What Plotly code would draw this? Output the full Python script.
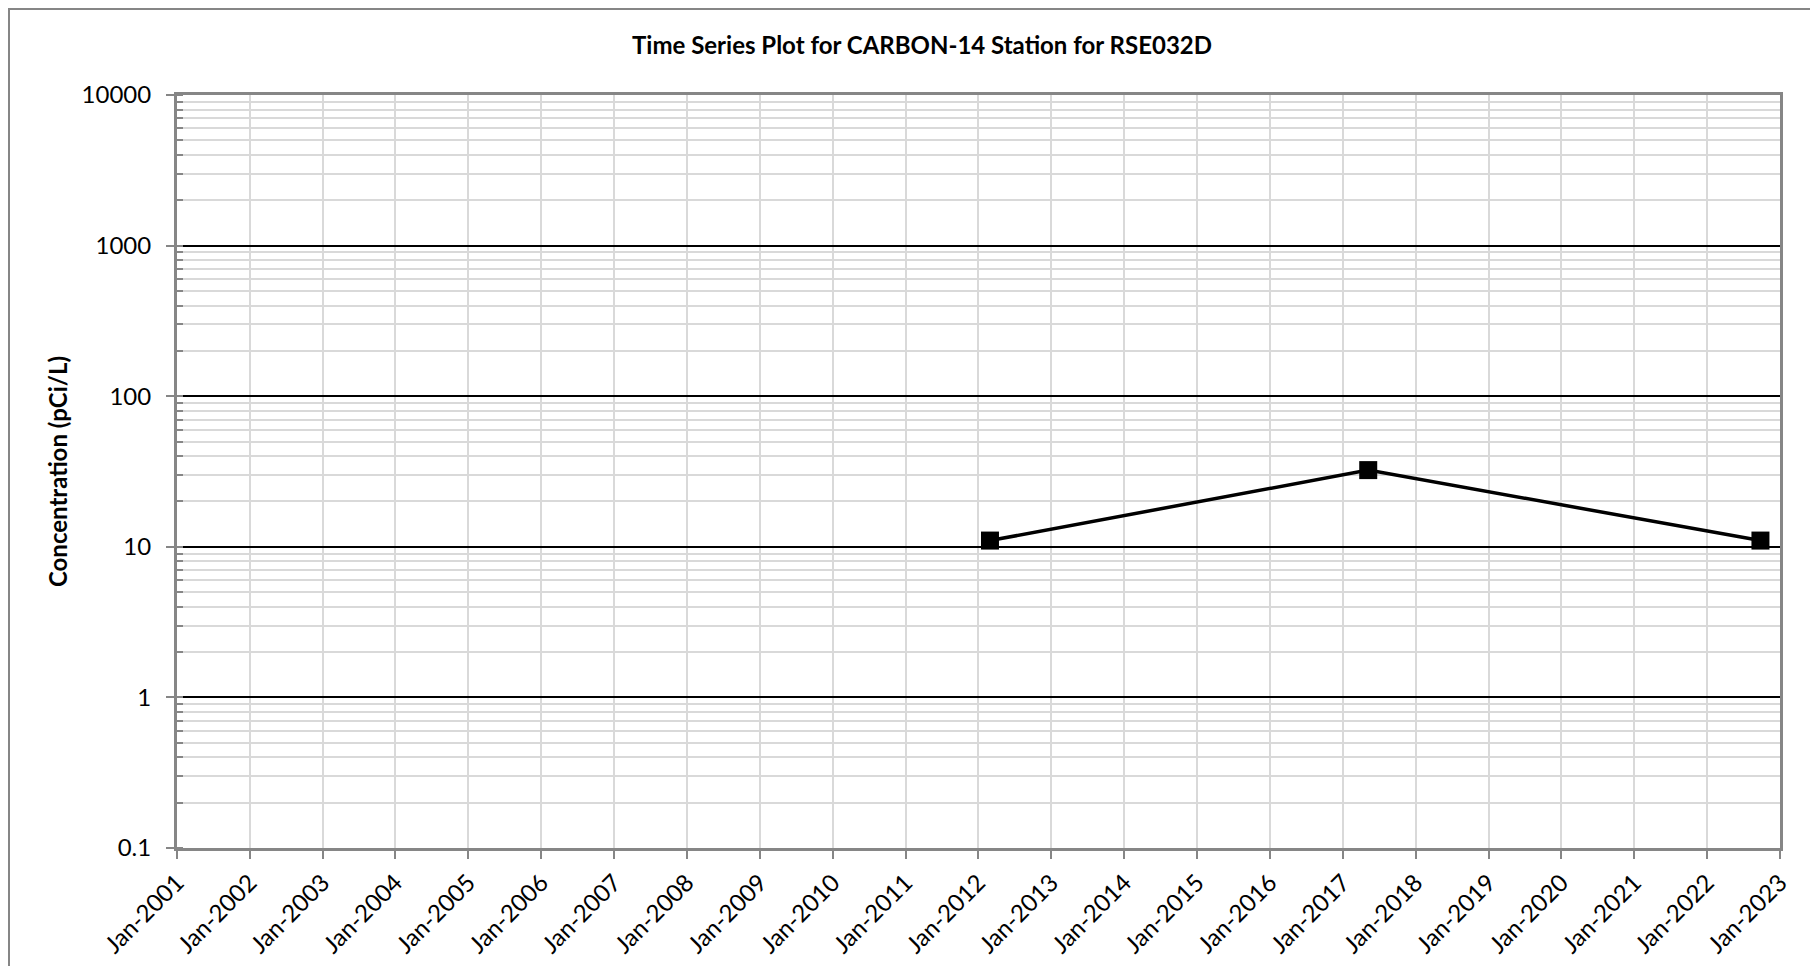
import plotly.graph_objects as go

# Data
dates = ["2012-02-28", "2017-05-08", "2022-09-25"]
conc = [11.0, 32.3, 11.0]

year_ticks = [f"{y}-01-01" for y in range(2001, 2024)]
year_labels = [f"Jan-{y}" for y in range(2001, 2024)]
y_tickvals = [0.1, 1, 10, 100, 1000, 10000]
y_ticktext = ["0.1", "1", "10", "100", "1000", "10000"]

title_text = "Time Series Plot for CARBON-14 Station for RSE032D"
y_title = "Concentration (pCi/L)"

FONT = "Lato"
OFF = 8  # page body margin
W, H = 1818 - 2 * OFF, 974 - 2 * OFF
L, T = 177 - OFF, 95 - OFF
R = W - (1780 - OFF)
B = H - (848 - OFF)

fig = go.Figure()
fig.add_trace(go.Scatter(
    x=dates, y=conc, mode="lines+markers",
    line=dict(color="black", width=3.5),
    marker=dict(symbol="square", size=18, color="black"),
    showlegend=False,
))

fig.update_layout(
    width=W, height=H,
    margin=dict(l=L, r=R, t=T, b=B, pad=0, autoexpand=False),
    paper_bgcolor="white", plot_bgcolor="white",
    font=dict(family=FONT, color="black", size=24),
    title=dict(text="<b>" + title_text + "</b>", x=(922 - OFF) / W,
               xanchor="center", y=1 - (46 - OFF) / H, yanchor="middle",
               font=dict(family=FONT, size=24, color="black")),
    xaxis=dict(
        type="date", range=["2001-01-01", "2023-01-01"],
        tickmode="array", tickvals=year_ticks, ticktext=year_labels,
        tickangle=-45, tickfont=dict(size=24),
        showgrid=True, gridcolor="#d9d9d9", gridwidth=2,
        showline=True, linecolor="#868686", linewidth=3, mirror=True,
        ticks="outside", ticklen=8, tickcolor="#868686", tickwidth=2,
        ticklabelstandoff=0, automargin=False,
        zeroline=False,
    ),
    yaxis=dict(
        type="log", range=[-1, 4],
        tickmode="array", tickvals=y_tickvals, ticktext=y_ticktext,
        tickfont=dict(size=24),
        showgrid=True, gridcolor="black", gridwidth=1.5,
        showline=True, linecolor="#868686", linewidth=3, mirror=True,
        ticks="outside", ticklen=8, tickcolor="#868686", tickwidth=2,
        ticklabelstandoff=10, automargin=False,
        minor=dict(dtick="D1", showgrid=True, gridcolor="#d9d9d9", gridwidth=2,
                   ticks="inside", ticklen=6, tickcolor="#868686", tickwidth=2),
        title=dict(text="<b>" + y_title + "</b>", font=dict(family=FONT, size=24), standoff=8),
        zeroline=False,
    ),
)

# outer chart border
pw = W - L - R
ph = H - T - B
fig.add_shape(type="rect", xref="paper", yref="paper",
              x0=(9 - OFF - L) / pw, x1=1 + (R + 40) / pw,
              y0=-(B + 40) / ph, y1=1 + (T - (9 - OFF)) / ph,
              line=dict(color="#868686", width=2), fillcolor="rgba(0,0,0,0)", layer="below")

fig.write_html("out.html")
